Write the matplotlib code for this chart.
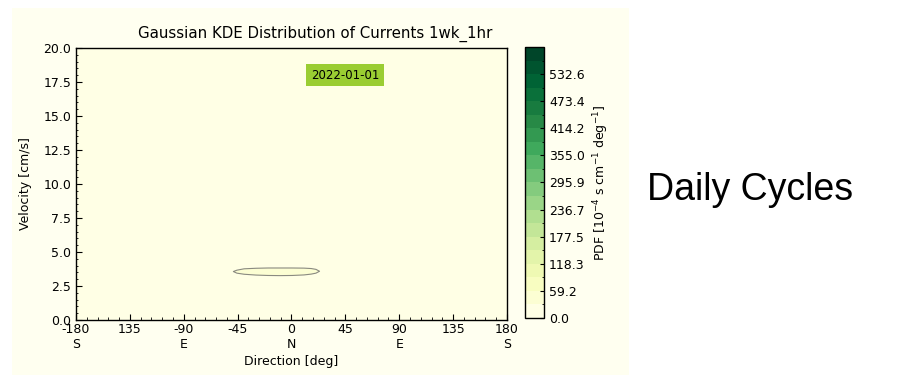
import matplotlib
matplotlib.use("Agg")
import matplotlib.pyplot as plt
import matplotlib.colors as mcolors
import numpy as np
from matplotlib.patches import Rectangle
from matplotlib.ticker import AutoMinorLocator, FixedLocator

# --- data ---
# colour levels of the KDE contour fill (10^-4 s cm^-1 deg^-1)
pdf_max = 591.73
n_levels = 20
# outline of the only visible KDE band (direction [deg], velocity [cm/s])
ring_dir = [-49, -46, -40, -30, -20, -10, 0, 10, 16, 20, 23]
ring_upper = [3.60, 3.70, 3.80, 3.84, 3.86, 3.86, 3.86, 3.85, 3.82, 3.76, 3.62]
ring_lower = [3.60, 3.48, 3.40, 3.34, 3.31, 3.30, 3.31, 3.35, 3.41, 3.48, 3.62]
ring_pdf = 45.0

dir_ticks = [-180, -135, -90, -45, 0, 45, 90, 135, 180]
dir_labels = ['-180\nS', '135', '-90\nE', '-45', '0\nN', '45', '90\nE', '135', '180\nS']
date_label = '2022-01-01'

# style
plt.rcParams['font.family'] = 'DejaVu Sans'
plt.rcParams['font.size'] = 9
plt.rcParams['xtick.direction'] = 'in'
plt.rcParams['ytick.direction'] = 'in'
plt.rcParams['xtick.major.size'] = 4
plt.rcParams['ytick.major.size'] = 4
plt.rcParams['xtick.minor.size'] = 2
plt.rcParams['ytick.minor.size'] = 1.5
plt.rcParams['axes.linewidth'] = 1.0

fig = plt.figure(figsize=(9.04, 3.75), dpi=100)
fig.patch.set_facecolor('white')
# the chart image sits on a white slide
bg = Rectangle((0.0133, 0.0), 0.6825, 0.9787, transform=fig.transFigure,
               facecolor='ivory', edgecolor='none', zorder=-10)
fig.add_artist(bg)

ax = fig.add_axes([0.0841, 0.1467, 0.4767, 0.7253])
cax = fig.add_axes([0.5808, 0.152, 0.021, 0.7227])

levels = np.linspace(0, pdf_max, n_levels + 1)
cmap = plt.get_cmap('YlGn')
norm = mcolors.BoundaryNorm(levels, cmap.N)

ax.set_facecolor(cmap(norm(0.0)))
ax.fill_between(ring_dir, ring_lower, ring_upper, facecolor=cmap(norm(ring_pdf)),
                edgecolor='#8a8a80', linewidth=0.8)

ax.set_xlim(-180, 180)
ax.set_ylim(0, 20)
ax.xaxis.set_major_locator(FixedLocator(dir_ticks))
ax.set_xticklabels(dir_labels)
ax.xaxis.set_minor_locator(AutoMinorLocator(5))
ax.yaxis.set_minor_locator(AutoMinorLocator(5))
ax.tick_params(which='both', top=False, right=False)
ax.tick_params(axis='x', pad=2)
ax.set_yticks(np.arange(0, 20.1, 2.5))
ax.set_yticklabels(['%.1f' % v for v in np.arange(0, 20.1, 2.5)])

ax.set_xlabel('Direction [deg]', labelpad=3)
ax.set_ylabel('Velocity [cm/s]', labelpad=8)
ax.set_title('Gaussian KDE Distribution of Currents 1wk_1hr', pad=7, x=0.555)

ax.text(45, 18.0, date_label, ha='center', va='center', fontsize=8.5,
        bbox=dict(boxstyle='square,pad=0.4', facecolor='yellowgreen', edgecolor='none'))

sm = plt.cm.ScalarMappable(norm=norm, cmap=cmap)
cb = fig.colorbar(sm, cax=cax, ticks=levels[:-1:2])
cb.ax.set_yticklabels(['%.1f' % v for v in levels[:-1:2]])
cb.ax.tick_params(direction='in', length=3)
cb.set_label(r'PDF [10$^{-4}$ s cm$^{-1}$ deg$^{-1}$]', labelpad=5)

fig.text(0.7157, 0.493, 'Daily Cycles', family='Liberation Sans', fontsize=27,
         ha='left', va='center', color='black')

fig.savefig('out.png', dpi=100, facecolor=fig.get_facecolor())
